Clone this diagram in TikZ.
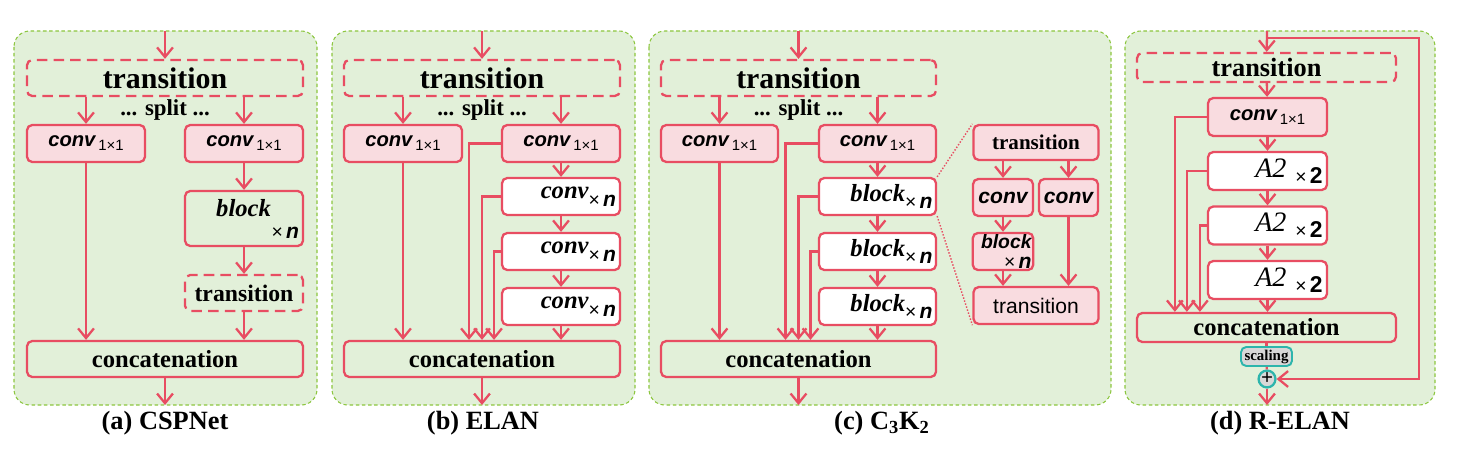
\documentclass[tikz,border=0pt]{standalone}
\usepackage{fontspec}
\setmainfont{Liberation Serif}
\setsansfont{Liberation Sans}
\usetikzlibrary{arrows.meta}
\usetikzlibrary{calc}
\definecolor{linered}{HTML}{E84D62}
\definecolor{boxpink}{HTML}{F9DCE0}
\definecolor{panelgreen}{HTML}{E2F0D9}
\definecolor{edgegreen}{HTML}{8CC63F}
\definecolor{scaleteal}{HTML}{2DB5AC}
\definecolor{scalegray}{HTML}{D8D8D8}
\tikzset{> = {Straight Barb[length=5.5pt,width=9pt]}}
\tikzset{
  panel/.style={draw=edgegreen, fill=panelgreen, line width=0.6pt, dash pattern=on 2pt off 1.5pt, rounded corners=9pt},
  sz/.style 2 args={minimum width=#1*0.02cm, minimum height=#2*0.02cm},
  blk/.style={draw=linered, line width=1.3pt, rounded corners=3pt, inner sep=1pt},
  pinkblk/.style={blk, fill=boxpink},
  whiteblk/.style={blk, fill=white},
  greenblk/.style={blk, fill=panelgreen},
  transblk/.style={blk, dash pattern=on 6pt off 3.5pt},
  rtext/.style={text width=#1, align=right},
  flow/.style={draw=linered, line width=1.3pt, ->},
  bigfont/.style={font=\fontsize{17}{18}\selectfont\bfseries},
  splitfont/.style={font=\fontsize{13}{14}\selectfont\bfseries},
  catfont/.style={font=\fontsize{14}{15}\selectfont\bfseries},
  capfont/.style={font=\fontsize{15}{16}\selectfont\bfseries},
  serifit/.style={font=\fontsize{14}{15}\selectfont\bfseries\itshape},
}
\newcommand{\convsub}{{\sffamily\bfseries\itshape\fontsize{11.5}{12}\selectfont conv}\,\raisebox{-0.5ex}{\sffamily\mdseries\upshape\fontsize{8.5}{9}\selectfont 1×1}}
\newcommand{\timesn}{\raisebox{-0.7ex}{\sffamily\mdseries\upshape\fontsize{11}{11}\selectfont ×\,\textbf{\textit{\fontsize{12}{12}\selectfont n}}}}
\newcommand{\timestwo}{\raisebox{-0.7ex}{\sffamily\mdseries\upshape\fontsize{11}{11}\selectfont ×\,\textbf{\fontsize{13}{13}\selectfont 2}}}

\begin{document}
\begin{tikzpicture}[x=0.02cm,y=-0.02cm]
\useasboundingbox (0,0) rectangle (1459,459);
%% panels
\draw[panel] (14,31) rectangle (317,405);
\draw[panel] (332,31) rectangle (635,405);
\draw[panel] (649,31) rectangle (1111,405);
\draw[panel] (1125,31) rectangle (1435,405);

%% (a) CSPNet
\coordinate (inA) at (165,31);
\coordinate (outA) at (165,405);
\node[transblk, sz={276}{36}, bigfont] (transA) at (165,78) {transition};
\node[splitfont] (splitA) at (165,110) {... split ...};
\node[pinkblk, sz={118}{37}] (convA1) at (86,143.5) {\convsub};
\node[pinkblk, sz={118}{37}] (convA2) at (244,143.5) {\convsub};
\node[greenblk, sz={118}{55}, rtext=2.2cm, serifit] (blockA) at (244,218.5) {block\kern16pt\\[-7pt]\timesn};
\node[transblk, sz={118}{36}, font=\fontsize{13.5}{14}\selectfont\bfseries] (transA2) at (244,293) {transition};
\node[greenblk, sz={276}{36}, catfont] (catA) at (165,359) {concatenation};
\draw[flow] (inA) -- (transA);
\draw[flow] (transA.south -| convA1) -- (convA1);
\draw[flow] (transA.south -| convA2) -- (convA2);
\draw[flow] (convA2) -- (blockA);
\draw[flow] (blockA) -- (transA2);
\draw[flow] (convA1) -- (convA1 |- catA.north);
\draw[flow] (transA2) -- (transA2 |- catA.north);
\draw[flow] (catA) -- (outA);
\node[capfont] (capA) at (165,423) {(a) CSPNet};

%% (b) ELAN
\coordinate (inB) at (482,31);
\coordinate (outB) at (482,405);
\node[transblk, sz={276}{36}, bigfont] (transB) at (482,78) {transition};
\node[splitfont] (splitB) at (482,110) {... split ...};
\node[pinkblk, sz={118}{37}] (convB1) at (403,143.5) {\convsub};
\node[pinkblk, sz={118}{37}] (convB2) at (561,143.5) {\convsub};
\node[whiteblk, sz={118}{37}, rtext=2.2cm, serifit] (xB1) at (561,196.5) {conv\timesn};
\node[whiteblk, sz={118}{37}, rtext=2.2cm, serifit] (xB2) at (561,251.5) {conv\timesn};
\node[whiteblk, sz={118}{37}, rtext=2.2cm, serifit] (xB3) at (561,306.5) {conv\timesn};
\node[greenblk, sz={276}{36}, catfont] (catB) at (482,359) {concatenation};
\draw[flow] (inB) -- (transB);
\draw[flow] (transB.south -| convB1) -- (convB1);
\draw[flow] (transB.south -| convB2) -- (convB2);
\draw[flow] (convB2) -- (xB1);
\draw[flow] (xB1) -- (xB2);
\draw[flow] (xB2) -- (xB3);
\draw[flow] (xB3) -- (xB3 |- catB.north);
\draw[flow] (convB1) -- (convB1 |- catB.north);
\draw[flow] (convB2.west) -| ([xshift=-0.26cm]catB.north);
\draw[flow] (xB1.west) -| (catB.north);
\draw[flow] (xB2.west) -| ([xshift=0.24cm]catB.north);
\draw[flow] (catB) -- (outB);
\node[capfont] (capB) at (483,423) {(b) ELAN};

%% (c) C3K2
\coordinate (inC) at (798.5,31);
\coordinate (outC) at (798.5,405);
\node[transblk, sz={275}{36}, bigfont] (transC) at (798.5,78) {transition};
\node[splitfont] (splitC) at (798.5,110) {... split ...};
\node[pinkblk, sz={117}{37}] (convC1) at (719.5,143.5) {\convsub};
\node[pinkblk, sz={117}{37}] (convC2) at (877.5,143.5) {\convsub};
\node[whiteblk, sz={117}{37}, rtext=2.2cm, serifit] (kC1) at (877.5,196.5) {block\timesn};
\node[whiteblk, sz={117}{37}, rtext=2.2cm, serifit] (kC2) at (877.5,251.5) {block\timesn};
\node[whiteblk, sz={117}{37}, rtext=2.2cm, serifit] (kC3) at (877.5,306.5) {block\timesn};
\node[greenblk, sz={275}{36}, catfont] (catC) at (798.5,359) {concatenation};
\draw[flow] (inC) -- (transC);
\draw[flow] (transC.south -| convC1) -- (convC1);
\draw[flow] (transC.south -| convC2) -- (convC2);
\draw[flow] (convC2) -- (kC1);
\draw[flow] (kC1) -- (kC2);
\draw[flow] (kC2) -- (kC3);
\draw[flow] (kC3) -- (kC3 |- catC.north);
\draw[flow] (convC1) -- (convC1 |- catC.north);
\draw[flow] (convC2.west) -| ([xshift=-0.26cm]catC.north);
\draw[flow] (kC1.west) -| (catC.north);
\draw[flow] (kC2.west) -| ([xshift=0.24cm]catC.north);
\draw[flow] (catC) -- (outC);
% inside of a block
\node[pinkblk, sz={125}{35}, font=\fontsize{12}{13}\selectfont\bfseries] (dT1) at (1036,142.5) {transition};
\node[pinkblk, sz={60}{37}, font=\fontsize{12}{13}\selectfont\sffamily\bfseries\itshape] (dC1) at (1003,197.5) {conv};
\node[pinkblk, sz={59}{37}, font=\fontsize{12}{13}\selectfont\sffamily\bfseries\itshape] (dC2) at (1068.5,197.5) {conv};
\node[pinkblk, sz={60}{37}, rtext=1.14cm, font=\fontsize{11}{11}\selectfont\sffamily\bfseries\itshape] (dB) at (1003,251.5) {block\\[-3pt]{\fontsize{8.5}{8.5}\selectfont\timesn}};
\node[pinkblk, sz={125}{37}, font=\fontsize{12}{13}\selectfont\sffamily] (dT2) at (1036,305.5) {transition};
\draw[flow] (dT1.south -| dC1) -- (dC1);
\draw[flow] (dT1.south -| dC2) -- (dC2);
\draw[flow] (dC1) -- (dB);
\draw[flow] (dB) -- (dB |- dT2.north);
\draw[flow] (dC2) -- (dC2 |- dT2.north);
\draw[linered, densely dotted, line width=0.8pt] (kC1.north east) -- (dT1.north west);
\draw[linered, densely dotted, line width=0.8pt] (kC1.south east) -- (dT2.south west);
\node[capfont] (capC) at (882,423) {(c) C\textsubscript{3}K\textsubscript{2}};

%% (d) R-ELAN
\coordinate (inD) at (1267,31);
\coordinate (outD) at (1267,405);
\coordinate (loopD) at (1419,38);
\node[transblk, sz={259}{29}, font=\fontsize{15}{16}\selectfont\bfseries] (transD) at (1266.5,67.5) {transition};
\node[pinkblk, sz={119}{38}] (convD) at (1267.5,117) {\convsub};
\node[whiteblk, sz={119}{38}, rtext=2.2cm] (aD1) at (1267.5,171) {{\fontsize{16}{16}\selectfont\itshape A2}\hspace{5pt}\timestwo};
\node[whiteblk, sz={119}{38}, rtext=2.2cm] (aD2) at (1267.5,225.5) {{\fontsize{16}{16}\selectfont\itshape A2}\hspace{5pt}\timestwo};
\node[whiteblk, sz={119}{38}, rtext=2.2cm] (aD3) at (1267.5,280) {{\fontsize{16}{16}\selectfont\itshape A2}\hspace{5pt}\timestwo};
\node[greenblk, sz={259}{29}, catfont] (catD) at (1266.5,327.5) {concatenation};
\node[draw=scaleteal, fill=scalegray, line width=1.1pt, rounded corners=3pt, sz={51}{19}, inner sep=0pt, font=\fontsize{8.5}{9}\selectfont\bfseries] (scaleD) at (1266.5,356.5) {scaling};
\node[circle, draw=scaleteal, fill=scalegray, line width=1.3pt, minimum size=0.3cm, inner sep=0pt, font=\fontsize{12}{12}\selectfont\bfseries] (plusD) at (1267,379) {+};
\draw[flow] (inD) -- (transD);
\draw[flow] (transD) -- (convD);
\draw[flow] (convD) -- (aD1);
\draw[flow] (aD1) -- (aD2);
\draw[flow] (aD2) -- (aD3);
\draw[flow] (aD3) -- (aD3 |- catD.north);
\draw[flow] (convD.west) -| ([xshift=0.78cm]catD.north west);
\draw[flow] (aD1.west) -| ([xshift=1.02cm]catD.north west);
\draw[flow] (aD2.west) -| ([xshift=1.28cm]catD.north west);
\draw[linered, line width=1.3pt] (catD) -- (scaleD);
\draw[linered, line width=1.3pt] (scaleD) -- (plusD);
\draw[flow] (inD |- loopD) -- (loopD) |- (plusD);
\draw[flow] (plusD) -- (outD);
\node[capfont] (capD) at (1280,423) {(d) R-ELAN};
\end{tikzpicture}
\end{document}
